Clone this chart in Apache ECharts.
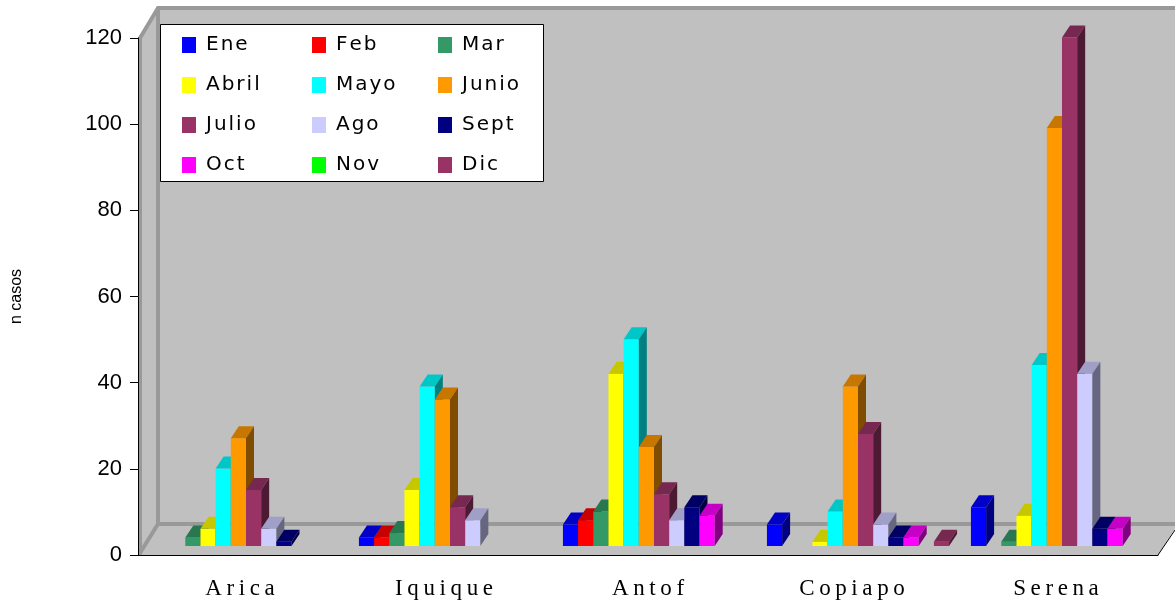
<!DOCTYPE html>
<html>
<head>
<meta charset="utf-8">
<script src="https://cdn.jsdelivr.net/npm/echarts@6/dist/echarts.min.js"></script>
<style>
  html, body { margin: 0; padding: 0; background: #fff; }
  #chart { width: 1175px; height: 608px; }
</style>
</head>
<body>
<div id="chart"></div>
<script>
var cities = ['Arica', 'Iquique', 'Antof', 'Copiapo', 'Serena'];
var months = ['Ene', 'Feb', 'Mar', 'Abril', 'Mayo', 'Junio', 'Julio', 'Ago', 'Sept', 'Oct', 'Nov', 'Dic'];
var yTicks = [0, 20, 40, 60, 80, 100, 120];

var ene   = [0, 2, 5, 5, 9];
var feb   = [0, 2, 6, 0, 0];
var mar   = [2, 3, 8, 0, 1];
var abril = [4, 13, 40, 1, 7];
var mayo  = [18, 37, 48, 8, 42];
var junio = [25, 34, 23, 37, 97];
var julio = [13, 9, 12, 26, 118];
var ago   = [4, 6, 6, 5, 40];
var sept  = [1, 0, 9, 2, 4];
var oct   = [0, 0, 7, 2, 4];
var nov   = [0, 0, 0, 0, 0];
var dic   = [0, 0, 0, 1, 0];

var monthData = [ene, feb, mar, abril, mayo, junio, julio, ago, sept, oct, nov, dic];
var colors = ['#0000ff', '#ff0000', '#339966', '#ffff00', '#00ffff', '#ff9900',
              '#993366', '#ccccff', '#000080', '#ff00ff', '#00ff00', '#993366'];

// depth of the walls and of the bars, in px
var WALL_DX = 20, WALL_DY = 31;
var BAR_DX = 8, BAR_DY = 12;
var BAR_LIFT = 9;

function shade(hex, k) {
  var n = parseInt(hex.slice(1), 16);
  var r = Math.round(((n >> 16) & 255) * k);
  var g = Math.round(((n >> 8) & 255) * k);
  var b = Math.round((n & 255) * k);
  return 'rgb(' + r + ',' + g + ',' + b + ')';
}

function spaced(s) {
  return s.split('').join('\u2009');
}

function renderWalls(params, api) {
  var cs = params.coordSys;
  var x0 = cs.x, x1 = cs.x + cs.width;
  var yT = cs.y, yB = cs.y + cs.height;
  var edge = { stroke: '#999999', lineWidth: 4, fill: null };
  return {
    type: 'group',
    children: [
      { type: 'polygon', shape: { points: [[x0 + WALL_DX, yT - WALL_DY], [x1 + 40, yT - WALL_DY], [x1 + 40, yB - WALL_DY], [x0 + WALL_DX, yB - WALL_DY]] }, style: { fill: '#c0c0c0' } },
      { type: 'polygon', shape: { points: [[x0, yT], [x0 + WALL_DX, yT - WALL_DY], [x0 + WALL_DX, yB - WALL_DY], [x0, yB]] }, style: { fill: '#c0c0c0' } },
      { type: 'polygon', shape: { points: [[x0, yB], [x1, yB], [x1 + WALL_DX, yB - WALL_DY], [x0 + WALL_DX, yB - WALL_DY]] }, style: { fill: '#c0c0c0' } },
      { type: 'polyline', shape: { points: [[x0 + 2, yB], [x0 + 2, yT], [x0 + WALL_DX, yT - WALL_DY + 1], [x1 + 40, yT - WALL_DY + 1]] }, style: edge },
      { type: 'polyline', shape: { points: [[x0 + 2, yB - 2], [x0 + WALL_DX, yB - WALL_DY], [x1 + 40, yB - WALL_DY]] }, style: edge },
      { type: 'line', shape: { x1: x0 + WALL_DX, y1: yT - WALL_DY, x2: x0 + WALL_DX, y2: yB - WALL_DY }, style: edge },
      { type: 'line', shape: { x1: x1, y1: yB, x2: x1 + 17, y2: yB - 25 }, style: { stroke: '#000', lineWidth: 1 } }
    ]
  };
}

function barRenderer(m) {
  var col = colors[m];
  return function (params, api) {
    var v = api.value(1);
    if (!v) return null;
    var cat = api.value(0);
    var p0 = api.coord([cat, 0]);
    var p1 = api.coord([cat, v]);
    var band = api.size([1, 0])[0];
    var w = band * 0.0744;
    var x = p0[0] - band / 2 + band * 0.083 + m * w;
    var yb = p0[1] - BAR_LIFT;
    var yt = p1[1] - BAR_LIFT;
    return {
      type: 'group',
      children: [
        { type: 'rect', shape: { x: x, y: yt, width: w, height: yb - yt }, style: { fill: col } },
        { type: 'polygon', shape: { points: [[x, yt], [x + BAR_DX, yt - BAR_DY], [x + w + BAR_DX, yt - BAR_DY], [x + w, yt]] }, style: { fill: shade(col, 0.78) } },
        { type: 'polygon', shape: { points: [[x + w, yt], [x + w + BAR_DX, yt - BAR_DY], [x + w + BAR_DX, yb - BAR_DY], [x + w, yb]] }, style: { fill: shade(col, 0.5) } }
      ]
    };
  };
}

var series = [{
  type: 'custom',
  name: 'walls',
  renderItem: renderWalls,
  data: [[0, 0]],
  silent: true,
  z: 0
}];

months.forEach(function (name, m) {
  series.push({
    type: 'custom',
    name: name,
    itemStyle: { color: colors[m] },
    renderItem: barRenderer(m),
    data: monthData[m].map(function (v, i) { return [i, v]; }),
    z: 2
  });
});

function legendCol(names, left) {
  return {
    orient: 'vertical',
    left: left,
    top: 30,
    itemWidth: 14,
    itemHeight: 16,
    itemGap: 20,
    icon: 'rect',
    data: names,
    formatter: function (s) { return s.split('').join('\u200A'); },
    z: 10,
    textStyle: { fontFamily: 'DejaVu Sans', fontSize: 20, lineHeight: 16, color: '#000', padding: [0, 0, 0, 5] }
  };
}

var chart = echarts.init(document.getElementById('chart'), null, { renderer: 'canvas' });
chart.setOption({
  backgroundColor: '#ffffff',
  animation: false,
  grid: { left: 138, right: 17, top: 38, bottom: 53 },
  graphic: [{
    type: 'rect',
    left: 160, top: 24,
    shape: { width: 383, height: 157 },
    style: { fill: '#ffffff', stroke: '#000000', lineWidth: 1 },
    z: 3
  }],
  legend: [
    legendCol(['Ene', 'Abril', 'Julio', 'Oct'], 177),
    legendCol(['Feb', 'Mayo', 'Ago', 'Nov'], 307),
    legendCol(['Mar', 'Junio', 'Sept', 'Dic'], 433)
  ],
  xAxis: {
    type: 'category',
    data: cities,
    boundaryGap: true,
    axisLine: { lineStyle: { color: '#000', width: 1 } },
    axisTick: { length: 8, lineStyle: { color: '#000' } },
    axisLabel: {
      margin: 22,
      formatter: spaced,
      fontFamily: 'Liberation Serif',
      fontSize: 23,
      color: '#000'
    },
    z: 3
  },
  yAxis: {
    type: 'value',
    min: yTicks[0],
    max: yTicks[yTicks.length - 1],
    interval: 20,
    name: 'n casos',
    nameLocation: 'middle',
    nameGap: 113,
    nameTextStyle: { fontFamily: 'Liberation Sans', fontSize: 16, color: '#000' },
    axisLine: { show: true, lineStyle: { color: '#000', width: 1 } },
    axisTick: { show: true, length: 8, lineStyle: { color: '#000' } },
    axisLabel: { margin: 16, fontFamily: 'Liberation Sans', fontSize: 22, color: '#000' },
    splitLine: { show: false },
    z: 3
  },
  series: series
});
</script>
</body>
</html>
